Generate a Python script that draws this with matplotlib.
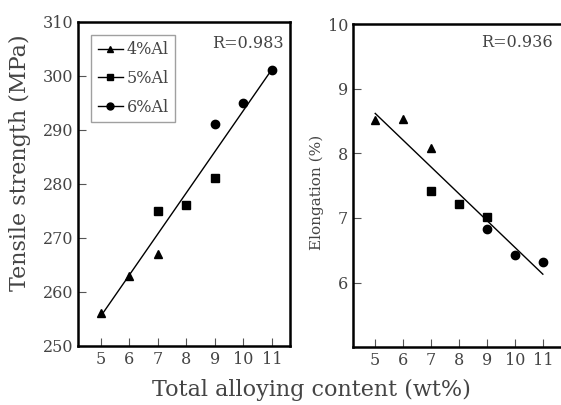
import numpy as np
import matplotlib
matplotlib.use("Agg")
import matplotlib.pyplot as plt
from matplotlib.lines import Line2D

plt.rcParams["font.family"] = ["DejaVu Serif"]

# data
groups = ["4%Al", "5%Al", "6%Al"]
markers = ["^", "s", "o"]

content_4 = [5, 6, 7]
content_5 = [7, 8, 9]
content_6 = [9, 10, 11]

strength_4 = [256, 263, 267]
strength_5 = [275, 276, 281]
strength_6 = [291, 295, 301]

elong_4 = [8.52, 8.53, 8.08]
elong_5 = [7.42, 7.22, 7.02]
elong_6 = [6.83, 6.43, 6.32]

r_strength = "R=0.983"
r_elong = "R=0.936"

xticks = [5, 6, 7, 8, 9, 10, 11]

contents = [content_4, content_5, content_6]
strengths = [strength_4, strength_5, strength_6]
elongs = [elong_4, elong_5, elong_6]

fig = plt.figure(figsize=(5.61, 4.05), dpi=100)
ax1 = fig.add_axes([0.139, 0.146, 0.378, 0.80])
ax2 = fig.add_axes([0.629, 0.143, 0.371, 0.797])


def style(ax):
    for s in ax.spines.values():
        s.set_linewidth(1.8)
    ax.tick_params(direction="in", length=6, width=0.8, labelsize=11.5,
                   colors="#555555", labelcolor="#444444")
    ax.set_xticks(xticks)


# left panel
for x, y, m, g in zip(contents, strengths, markers, groups):
    ax1.plot(x, y, m, color="black", markersize=6, linestyle="none")
x_all = np.concatenate(contents)
y_all = np.concatenate(strengths)
k, b = np.polyfit(x_all, y_all, 1)
xl = np.array([5, 11])
ax1.plot(xl, k * xl + b, color="black", lw=1)
ax1.set_xlim(4.21, 11.63)
ax1.set_ylim(250, 310)
ax1.set_yticks([250, 260, 270, 280, 290, 300, 310])
style(ax1)
ax1.set_ylabel("Tensile strength (MPa)", fontsize=16, color="#444444")
ax1.yaxis.set_label_coords(-0.22, 0.565)
ax1.text(0.97, 0.96, r_strength, transform=ax1.transAxes, ha="right", va="top",
         fontsize=11.5, color="#444444")
handles = [Line2D([], [], color="black", lw=1, marker=m, markersize=5) for m in markers]
leg = ax1.legend(handles, groups, loc="upper left", fontsize=11.5, frameon=True,
                 fancybox=False, handlelength=1.6, handletextpad=0.2,
                 borderpad=0.4, labelspacing=0.75, bbox_to_anchor=(0.025, 0.985))
leg.get_frame().set_edgecolor("#888888")
leg.get_frame().set_linewidth(1.0)
for t in leg.get_texts():
    t.set_color("#444444")

# right panel
for x, y, m, g in zip(contents, elongs, markers, groups):
    ax2.plot(x, y, m, color="black", markersize=6, linestyle="none")
y_all2 = np.concatenate(elongs)
k2, b2 = np.polyfit(x_all, y_all2, 1)
ax2.plot(xl, k2 * xl + b2, color="black", lw=1)
ax2.set_xlim(4.2, 11.65)
ax2.set_ylim(5, 10)
ax2.set_yticks([6, 7, 8, 9, 10])
style(ax2)
ax2.spines["right"].set_visible(False)
ax2.set_ylabel("Elongation (%)", fontsize=11, color="#444444")
ax2.yaxis.set_label_coords(-0.14, 0.48)
ax2.text(0.96, 0.97, r_elong, transform=ax2.transAxes, ha="right", va="top",
         fontsize=11.5, color="#444444")

fig.text(0.556, 0.037, "Total alloying content (wt%)", ha="center", va="center",
         fontsize=16, color="#444444")

fig.savefig("out.png", dpi=100)
